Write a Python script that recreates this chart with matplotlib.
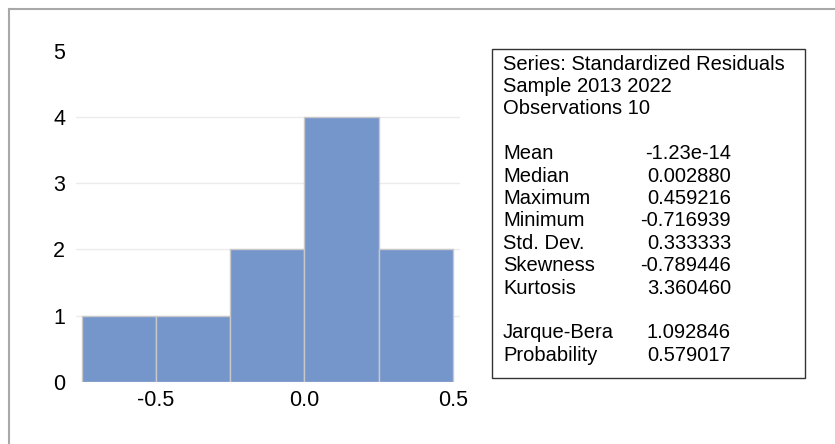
import matplotlib.pyplot as plt
from matplotlib.patches import Rectangle
from matplotlib.lines import Line2D
import matplotlib.transforms as mtransforms

plt.rcParams['font.family'] = ['Liberation Sans', 'DejaVu Sans']

# histogram of the residuals
bin_edges = [-0.75, -0.5, -0.25, 0.0, 0.25, 0.5]
counts = [1, 1, 2, 4, 2]

# statistics box
header = ['Series: Standardized Residuals', 'Sample 2013 2022', 'Observations 10']
stat_names = ['Mean', 'Median', 'Maximum', 'Minimum', 'Std. Dev.', 'Skewness', 'Kurtosis']
stat_values = ['-1.23e-14', '0.002880', '0.459216', '-0.716939', '0.333333', '-0.789446', '3.360460']
test_names = ['Jarque-Bera', 'Probability']
test_values = ['1.092846', '0.579017']

W, H = 835, 444
fig = plt.figure(figsize=(W / 100, H / 100), dpi=100)

# outer frame (top and left edges only)
fig.add_artist(Line2D([9 / W, 1], [1 - 9 / H, 1 - 9 / H], color='#a8a8a8', lw=1.5))
fig.add_artist(Line2D([9 / W, 9 / W], [0, 1 - 9 / H], color='#a8a8a8', lw=1.5))

ax = fig.add_axes([76 / W, 62.3 / H, 384 / W, 331 / H])
widths = [bin_edges[i + 1] - bin_edges[i] for i in range(len(counts))]
ax.bar(bin_edges[:-1], counts, width=widths, align='edge',
       color='#7596cb', edgecolor='#c8c8c8', linewidth=1, zorder=2)

ax.set_xlim(-0.769, 0.524)
ax.set_ylim(0, 5)
ax.set_xticks([-0.5, 0.0, 0.5])
ax.set_xticklabels(['-0.5', '0.0', '0.5'])
ax.set_yticks(range(6))
for s in ax.spines.values():
    s.set_visible(False)
ax.tick_params(length=0, labelsize=15.5, labelcolor='black')
ax.tick_params(axis='x', pad=6)
ax.grid(axis='y', color='#ebebeb', lw=1, zorder=0)
ylines = ax.get_ygridlines()
ylines[0].set_visible(False)
ylines[-1].set_visible(False)
offset = mtransforms.ScaledTranslation(0, 5 / 100, fig.dpi_scale_trans)
for lab in ax.get_yticklabels():
    lab.set_transform(lab.get_transform() + offset)
    lab.set_horizontalalignment('center')
ax.tick_params(axis='y', pad=12)

# statistics box
fig.add_artist(Rectangle((492 / W, 1 - 378 / H), 313 / W, 329 / H,
                         fill=False, edgecolor='#333333', lw=1))
fs = 14.5
lx, vx = 503 / W, 731 / W
y0, dy = 64, 22.4
row = 0
for t in header:
    fig.text(lx, 1 - (y0 + row * dy) / H, t, fontsize=fs, va='center')
    row += 1
row += 1
for n, v in zip(stat_names, stat_values):
    fig.text(lx, 1 - (y0 + row * dy) / H, n, fontsize=fs, va='center')
    fig.text(vx, 1 - (y0 + row * dy) / H, v, fontsize=fs, va='center', ha='right')
    row += 1
row += 1
for n, v in zip(test_names, test_values):
    fig.text(lx, 1 - (y0 + row * dy) / H, n, fontsize=fs, va='center')
    fig.text(vx, 1 - (y0 + row * dy) / H, v, fontsize=fs, va='center', ha='right')
    row += 1

fig.savefig('out.png', dpi=100)
